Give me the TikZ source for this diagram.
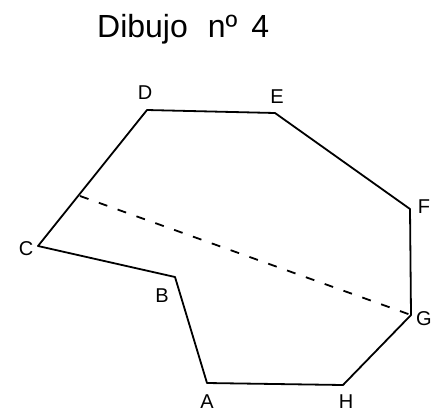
\documentclass[tikz,border=0pt]{standalone}
\usepackage{fontspec}
\setmainfont{Liberation Sans}
\begin{document}
\begin{tikzpicture}[x=1pt,y=-1pt,
  edge/.style={line width=1.8pt,line join=round},
  dashline/.style={line width=1.8pt,dash pattern=on 9pt off 11pt},
  lbl/.style={font=\fontsize{20}{20}\selectfont,inner sep=0pt}]
\useasboundingbox (0,0) rectangle (433,413);
\coordinate (A) at (207,383);
\coordinate (B) at (175,277);
\coordinate (C) at (38,246);
\coordinate (D) at (147,110);
\coordinate (E) at (275,113);
\coordinate (F) at (410,209);
\coordinate (G) at (411,315);
\coordinate (H) at (343,385);
\coordinate (P) at (80,196);
\draw[edge] (A) -- (B) -- (C) -- (D) -- (E) -- (F) -- (G) -- (H) -- cycle;
\draw[dashline] (P) -- (G);
\node[anchor=base west,inner sep=0pt,font=\fontsize{32}{32}\selectfont] (title) at (97,37) {Dibujo\hspace{20pt}nº\hspace{14pt}4};
\node[lbl] (lA) at (207,402) {A};
\node[lbl] (lB) at (162,296) {B};
\node[lbl] (lC) at (26,249) {C};
\node[lbl] (lD) at (145,93) {D};
\node[lbl] (lE) at (277,97) {E};
\node[lbl] (lF) at (424,207) {F};
\node[lbl] (lG) at (424,319) {G};
\node[lbl] (lH) at (346,402) {H};
\end{tikzpicture}
\end{document}
